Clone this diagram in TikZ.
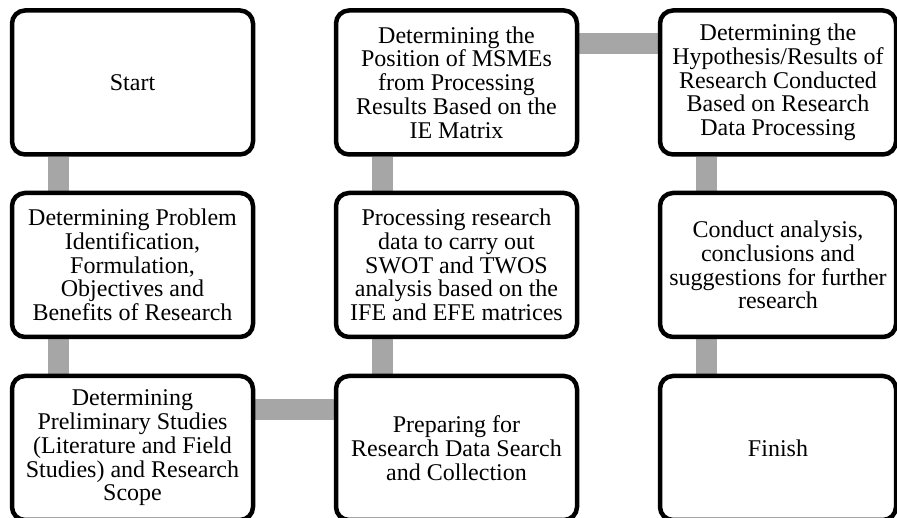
\documentclass[tikz,border=0pt]{standalone}
\usepackage{fontspec}
\setmainfont{Liberation Serif}
\usetikzlibrary{backgrounds}
\begin{document}
\begin{tikzpicture}[x=1pt,y=1pt,
  stepbox/.style={draw=black, line width=4.5pt, rounded corners=13pt, fill=white,
    minimum width=241pt, minimum height=144pt, inner sep=0pt, align=center,
    font=\fontsize{24}{23.7}\selectfont},
  bar/.style={draw=black!35, line width=21pt}]
\useasboundingbox (0,0) rectangle (897,518);
\clip (0,0) rectangle (897,518);
\node[stepbox] (s) at (132.5,435.5) {Start};
\node[stepbox] (p) at (132.5,253) {Determining Problem\\Identification,\\Formulation,\\Objectives and\\Benefits of Research};
\node[stepbox] (l) at (132.5,70) {Determining\\Preliminary Studies\\(Literature and Field\\Studies) and Research\\Scope};
\node[stepbox] (c) at (456.5,70) {Preparing for\\Research Data Search\\and Collection};
\node[stepbox] (d) at (456.5,253) {Processing research\\data to carry out\\SWOT and TWOS\\analysis based on the\\IFE and EFE matrices};
\node[stepbox] (m) at (456.5,435.5) {Determining the\\Position of MSMEs\\from Processing\\Results Based on the\\IE Matrix};
\node[stepbox, minimum width=236pt] (h) at (778,435.5) {Determining the\\Hypothesis/Results of\\Research Conducted\\Based on Research\\Data Processing};
\node[stepbox, minimum width=236pt] (a) at (778,253) {Conduct analysis,\\conclusions and\\suggestions for further\\research};
\node[stepbox, minimum width=236pt] (f) at (778,70) {Finish};
\begin{scope}[on background layer]
\draw[bar] ([xshift=49pt]s.south west) -- ([xshift=49pt]p.north west);
\draw[bar] ([xshift=49pt]p.south west) -- ([xshift=49pt]l.north west);
\draw[bar] ([yshift=-36pt]l.north east) -- ([yshift=-36pt]c.north west);
\draw[bar] ([xshift=49pt]c.north west) -- ([xshift=49pt]d.south west);
\draw[bar] ([xshift=49pt]d.north west) -- ([xshift=49pt]m.south west);
\draw[bar] ([yshift=-35pt]m.north east) -- ([yshift=-35pt]h.north west);
\draw[bar] ([xshift=49pt]h.south west) -- ([xshift=49pt]a.north west);
\draw[bar] ([xshift=49pt]a.south west) -- ([xshift=49pt]f.north west);
\end{scope}
\end{tikzpicture}
\end{document}
